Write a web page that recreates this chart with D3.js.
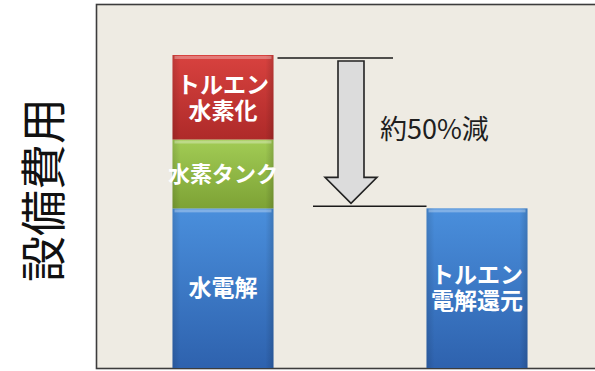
<!DOCTYPE html>
<html>
<head>
<meta charset="utf-8">
<script src="https://cdn.jsdelivr.net/npm/d3@7"></script>
<style>
  html, body { margin: 0; padding: 0; background: #ffffff; }
  svg { display: block; }
  text { font-family: "Noto Sans CJK JP", "Noto Sans", sans-serif; }
</style>
</head>
<body>
<svg id="chart" width="595" height="371"></svg>
<script>
// Equipment cost comparison (relative units, conventional stack = 100)
const categories = ["従来方式", "トルエン電解還元"];
const segmentNames = ["水電解", "水素タンク", "トルエン水素化"];
const conventionalValues = [51, 22, 27];
const electroReductionValue = [51];
const segmentLabels = [["水電解"], ["水素タンク"], ["トルエン", "水素化"]];
const electroLabel = ["トルエン", "電解還元"];
const yAxisTitle = "設備費用";
const reductionText = "約50%減";

const W = 595, H = 371;
const svg = d3.select("#chart");

const plot = { left: 96, top: 4, right: 604, bottom: 368 };

const x = d3.scalePoint().domain(categories).range([plot.left, plot.right]).padding(0.5);
const y = d3.scaleLinear().domain([0, 100]).range([plot.bottom, 55]);
const barW = 101;

// colour ramps per segment: [top, bottom]
const ramps = {
  "水電解": ["#4a8fdc", "#2e62ae"],
  "水素タンク": ["#a2cc55", "#7da235"],
  "トルエン水素化": ["#d8423f", "#ae2a29"]
};

const defs = svg.append("defs");
Object.entries(ramps).forEach(([k, c], i) => {
  const g = defs.append("linearGradient").attr("id", "g" + i)
    .attr("x1", 0).attr("y1", 0).attr("x2", 0).attr("y2", 1);
  g.append("stop").attr("offset", "0%").attr("stop-color", c[0]);
  g.append("stop").attr("offset", "100%").attr("stop-color", c[1]);
  const h = defs.append("linearGradient").attr("id", "h" + i)
    .attr("x1", 0).attr("y1", 0).attr("x2", 1).attr("y2", 0);
  h.append("stop").attr("offset", "0%").attr("stop-color", "#000").attr("stop-opacity", 0.12);
  h.append("stop").attr("offset", "8%").attr("stop-color", "#000").attr("stop-opacity", 0);
  h.append("stop").attr("offset", "92%").attr("stop-color", "#000").attr("stop-opacity", 0);
  h.append("stop").attr("offset", "100%").attr("stop-color", "#000").attr("stop-opacity", 0.15);
});
const gradId = name => "g" + Object.keys(ramps).indexOf(name);
const shadeId = name => "h" + Object.keys(ramps).indexOf(name);

// plot frame
svg.append("rect")
  .attr("x", plot.left + 0.5).attr("y", plot.top + 0.5)
  .attr("width", W + 20).attr("height", plot.bottom - plot.top)
  .attr("fill", "#eeebe3").attr("stroke", "#3c3c3c").attr("stroke-width", 1.6);

// stacked segments for the conventional system
const stackRows = [];
let acc = 0;
conventionalValues.forEach((v, i) => {
  stackRows.push({ cat: categories[0], name: segmentNames[i], y0: acc, y1: acc + v, label: segmentLabels[i] });
  acc += v;
});
stackRows.push({ cat: categories[1], name: "水電解", y0: 0, y1: electroReductionValue[0], label: electroLabel });

const segs = svg.append("g").selectAll("g").data(stackRows).join("g");
segs.append("rect")
  .attr("x", d => x(d.cat) - barW / 2)
  .attr("y", d => y(d.y1))
  .attr("width", barW)
  .attr("height", d => y(d.y0) - y(d.y1))
  .attr("fill", d => `url(#${gradId(d.name)})`);
segs.append("rect")
  .attr("x", d => x(d.cat) - barW / 2)
  .attr("y", d => y(d.y1))
  .attr("width", barW)
  .attr("height", d => y(d.y0) - y(d.y1))
  .attr("fill", d => `url(#${shadeId(d.name)})`);
// light top edge
segs.append("rect")
  .attr("x", d => x(d.cat) - barW / 2 + 2)
  .attr("y", d => y(d.y1) + 1)
  .attr("width", barW - 4)
  .attr("height", 3)
  .attr("fill", "#ffffff").attr("opacity", 0.3);

// segment labels, one text element per line
segs.each(function (d) {
  const cx = x(d.cat);
  const cy = (y(d.y0) + y(d.y1)) / 2;
  const lh = 26;
  const n = d.label.length;
  d.label.forEach((line, i) => {
    d3.select(this).append("text")
      .attr("text-anchor", "middle")
      .attr("fill", "#ffffff")
      .attr("font-weight", "bold")
      .attr("font-size", d.label[0].length > 4 ? 22 : 23)
      .attr("x", cx)
      .attr("y", cy + (i - (n - 1) / 2) * lh)
      .attr("dy", "0.36em")
      .text(line);
  });
});

// reduction annotation
const topY = y(acc) + 3;
const lowY = y(electroReductionValue[0]) - 2;
const ann = svg.append("g");
ann.append("line")
  .attr("x1", x(categories[0]) + barW / 2 + 4).attr("x2", 393)
  .attr("y1", topY).attr("y2", topY)
  .attr("stroke", "#1a1a1a").attr("stroke-width", 1.5);
ann.append("line")
  .attr("x1", 313).attr("x2", x(categories[1]) - barW / 2)
  .attr("y1", lowY).attr("y2", lowY)
  .attr("stroke", "#1a1a1a").attr("stroke-width", 1.5);

const ax = 351, shaftHalf = 13, headHalf = 26;
const shaftTop = topY + 3, headTop = lowY - 29, tip = lowY - 3;
ann.append("path")
  .attr("d", d3.line()([
    [ax - shaftHalf, shaftTop], [ax + shaftHalf, shaftTop], [ax + shaftHalf, headTop],
    [ax + headHalf, headTop], [ax, tip], [ax - headHalf, headTop], [ax - shaftHalf, headTop]
  ]) + "Z")
  .attr("fill", "#dcdcdc").attr("stroke", "#222").attr("stroke-width", 1.6)
  .attr("stroke-linejoin", "miter");

ann.append("text")
  .attr("x", 380).attr("y", (topY + lowY) / 2 - 3)
  .attr("dy", "0.36em")
  .attr("font-size", 27)
  .attr("fill", "#1e1e1e")
  .text(reductionText);

// vertical axis title
svg.append("text")
  .attr("transform", `translate(43,${(plot.top + plot.bottom) / 2 + 4}) rotate(-90)`)
  .attr("text-anchor", "middle")
  .attr("dy", "0.36em")
  .attr("font-size", 46)
  .attr("fill", "#111")
  .text(yAxisTitle);
</script>
</body>
</html>
